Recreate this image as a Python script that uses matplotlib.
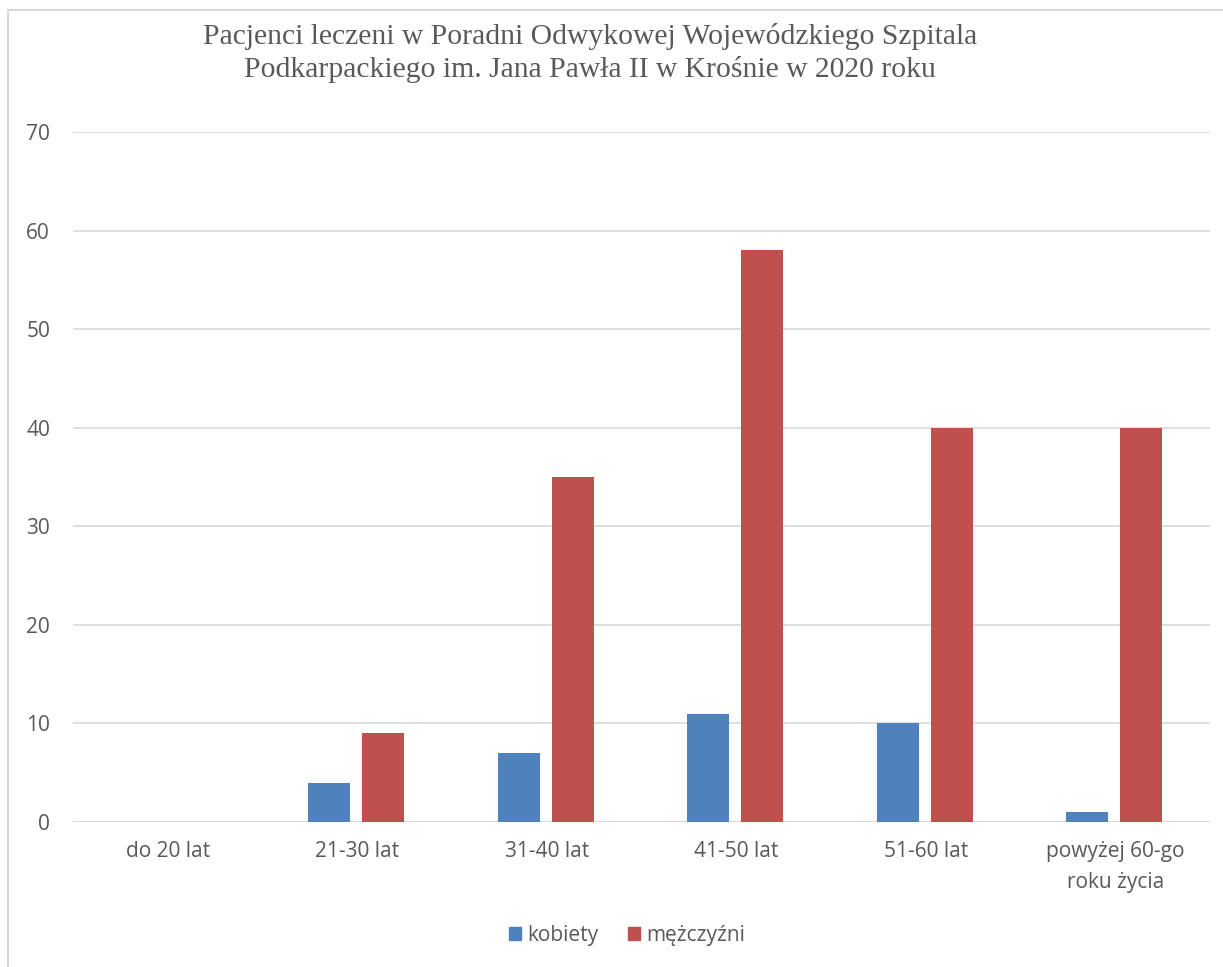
import matplotlib
matplotlib.use("Agg")
import matplotlib.pyplot as plt
from matplotlib.lines import Line2D
from matplotlib.patches import Patch
import numpy as np

categories = ["do 20 lat", "21-30 lat", "31-40 lat", "41-50 lat", "51-60 lat", "powyżej 60-go\nroku życia"]
kobiety = [0, 4, 7, 11, 10, 1]
mezczyzni = [0, 9, 35, 58, 40, 40]
series_names = ["kobiety", "mężczyźni"]
title = "Pacjenci leczeni w Poradni Odwykowej Wojewódzkiego Szpitala\nPodkarpackiego im. Jana Pawła II w Krośnie w 2020 roku"
yticks = [0, 10, 20, 30, 40, 50, 60, 70]

blue = "#4F81BD"
red = "#C0504D"
txt = "#595959"
grid = "#D9D9D9"

fig = plt.figure(figsize=(12.23, 9.67), dpi=100)
ax = fig.add_axes([73/1223, 1-822/967, (1210-73)/1223, (822-132)/967])

x = np.arange(len(categories))
w = 0.22
ax.bar(x - 0.148, kobiety, width=w, color=blue, zorder=3)
ax.bar(x + 0.137, mezczyzni, width=w, color=red, zorder=3)

ax.set_xlim(-0.5, len(categories) - 0.5)
ax.set_ylim(0, 70)
ax.set_yticks(yticks)
ax.yaxis.grid(True, color=grid, lw=1.2, zorder=0)
ax.set_axisbelow(True)
for s in ax.spines.values():
    s.set_visible(False)
ax.axhline(0, color=grid, lw=1.5, zorder=2)
ax.tick_params(length=0)
ax.set_xticks(x)
ax.set_xticklabels(categories, fontsize=15, color=txt, family="Open Sans", linespacing=1.6)
ax.tick_params(axis="x", pad=14)
ax.tick_params(axis="y", pad=16.5, labelsize=15, labelcolor=txt)
for lbl in ax.get_yticklabels():
    lbl.set_family("Open Sans")

fig.text(590/1223, 1-53/967, title, ha="center", va="center", fontsize=21.3,
         family="Liberation Serif", color=txt, linespacing=1.3)

handles = [Patch(color=blue, label=series_names[0]), Patch(color=red, label=series_names[1])]
fig.legend(handles=handles, loc="center", bbox_to_anchor=(627/1223, 1-935/967), ncol=2,
           frameon=False, prop={"family": "Open Sans", "size": 15}, labelcolor=txt,
           handlelength=0.6, handleheight=0.6, handletextpad=0.3, columnspacing=1.4)

fig.add_artist(Line2D([8/1223, 8/1223], [0, 1-10/967], color=grid, lw=1.5, transform=fig.transFigure))
fig.add_artist(Line2D([8/1223, 1], [1-10/967, 1-10/967], color=grid, lw=1.5, transform=fig.transFigure))

fig.savefig("out.png", dpi=100)
